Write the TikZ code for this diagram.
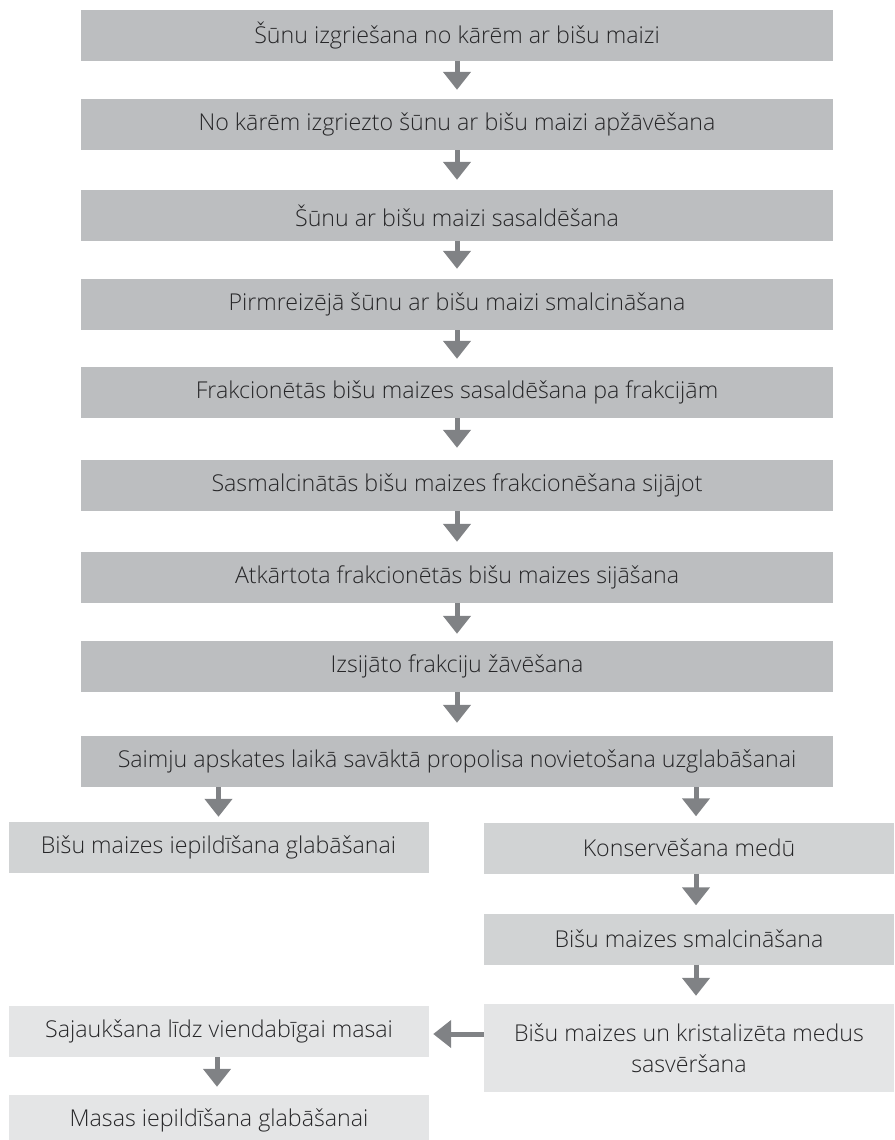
\documentclass[tikz,border=0pt]{standalone}
\usepackage{fontspec}
\setmainfont{Open Sans}[UprightFont={* Light}]
\usetikzlibrary{arrows.meta}
\definecolor{boxdark}{HTML}{BCBEC0}
\definecolor{boxmid}{HTML}{D1D3D4}
\definecolor{boxlight}{HTML}{E4E5E6}
\definecolor{arrgray}{HTML}{808285}
\definecolor{txt}{HTML}{262628}
\begin{document}
\begin{tikzpicture}[x=1pt,y=-1pt,
  box/.style={fill=boxdark, inner sep=0pt, minimum height=51pt, text=txt,
    font=\fontsize{23.2}{31.5}\selectfont, align=center},
  mainbox/.style={box, minimum width=752pt},
  sidebox/.style={box, minimum width=420pt},
  rightbox/.style={box, minimum width=410pt},
  arr/.style={draw=arrgray, line width=5pt, -{Triangle[width=27pt,length=18pt]}}]
\useasboundingbox (0,0) rectangle (894,1140);
\clip (0,0) rectangle (894,1140);

\node[mainbox] (b1) at (457,35.5) {Šūnu izgriešana no kārēm ar bišu maizi};
\node[mainbox] (b2) at (457,124.5) {No kārēm izgriezto šūnu ar bišu maizi apžāvēšana};
\node[mainbox] (b3) at (457,215.5) {Šūnu ar bišu maizi sasaldēšana};
\node[mainbox] (b4) at (457,304.5) {Pirmreizējā šūnu ar bišu maizi smalcināšana};
\node[mainbox] (b5) at (457,392.5) {Frakcionētās bišu maizes sasaldēšana pa frakcijām};
\node[mainbox] (b6) at (457,485.5) {Sasmalcinātās bišu maizes frakcionēšana sijājot};
\node[mainbox] (b7) at (457,577.5) {Atkārtota frakcionētās bišu maizes sijāšana};
\node[mainbox] (b8) at (457,666.5) {Izsijāto frakciju žāvēšana};
\node[mainbox] (b9) at (457,761.5) {Saimju apskates laikā savāktā propolisa novietošana uzglabāšanai};

\node[sidebox, fill=boxmid] (l1) at (218.5,847.5) {Bišu maizes iepildīšana glabāšanai};
\node[rightbox, fill=boxmid] (r1) at (689,848) {Konservēšana medū};
\node[rightbox, fill=boxmid] (r2) at (689,939) {Bišu maizes smalcināšana};
\node[rightbox, fill=boxlight, minimum height=88pt] (r3) at (689,1048) {Bišu maizes un kristalizēta medus\\sasvēršana};
\node[sidebox, fill=boxlight] (l2) at (219,1031.5) {Sajaukšana līdz viendabīgai masai};
\node[sidebox, fill=boxlight] (l3) at (219,1120.5) {Masas iepildīšana glabāšanai};

\draw[arr, shorten >=9pt] (b1) -- (b2);
\draw[arr, shorten >=10pt] (b2) -- (b3);
\draw[arr, shorten >=10pt] (b3) -- (b4);
\draw[arr, shorten >=8pt] (b4) -- (b5);
\draw[arr, shorten >=12pt] (b5) -- (b6);
\draw[arr, shorten >=10pt] (b6) -- (b7);
\draw[arr, shorten >=7pt] (b7) -- (b8);
\draw[arr, shorten >=13pt] (b8) -- (b9);

\draw[arr, shorten >=5pt] (l1.north |- b9.south) -- (l1.north);
\draw[arr, shorten >=6pt] ([xshift=7pt]r1.north |- b9.south) -- ([xshift=7pt]r1.north);
\draw[arr, shorten >=8pt] ([xshift=7pt]r1.south) -- ([xshift=7pt]r2.north);
\draw[arr, shorten >=8pt] ([xshift=7pt]r2.south) -- ([xshift=7pt]r3.north);
\draw[arr, shorten >=4pt] ([yshift=-2.5pt]l2.east -| r3.west) -- ([yshift=-2.5pt]l2.east);
\draw[arr, shorten >=8pt] ([xshift=-2pt]l2.south) -- ([xshift=-2pt]l3.north);
\end{tikzpicture}
\end{document}
